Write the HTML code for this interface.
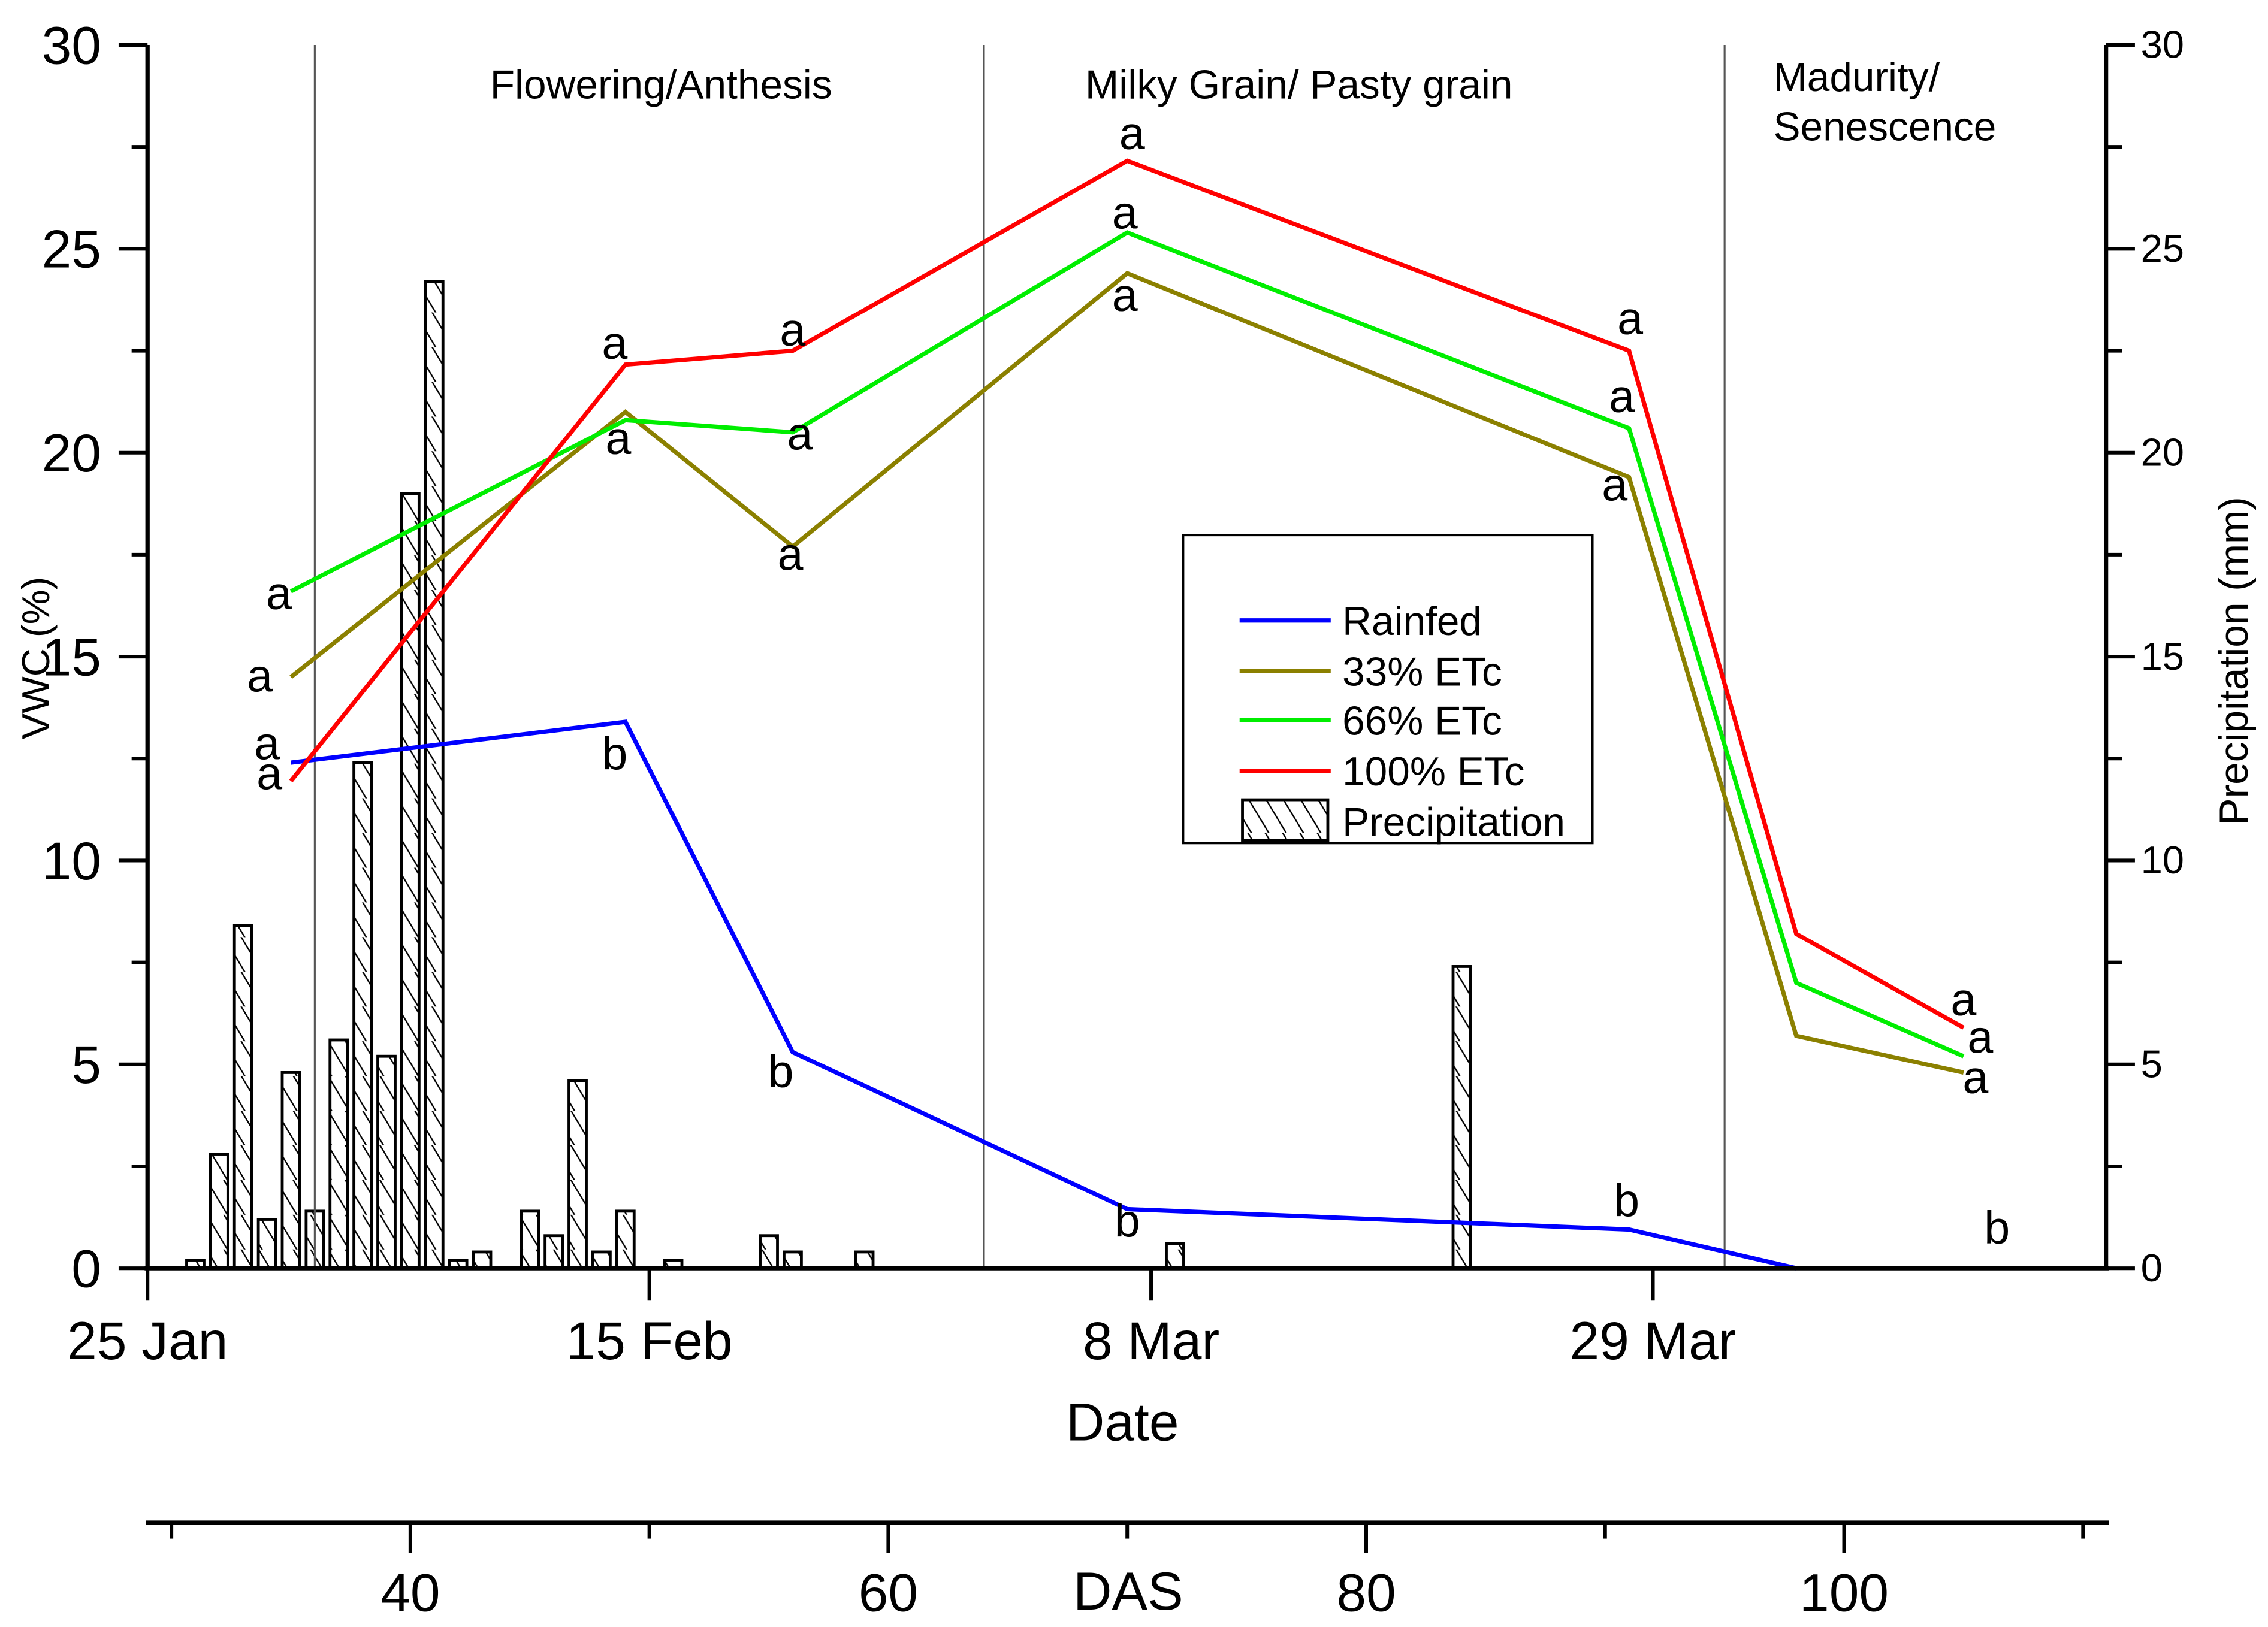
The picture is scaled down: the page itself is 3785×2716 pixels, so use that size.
<!DOCTYPE html>
<html><head><meta charset="utf-8"><style>
html,body{margin:0;padding:0;background:#fff}
svg{display:block}
text{font-family:"Liberation Sans",Arial,sans-serif;fill:#000}
</style></head><body>
<svg id="chart" width="3785" height="2716" viewBox="0 0 1568 1125" xmlns="http://www.w3.org/2000/svg">
<defs>
<pattern id="hatch" patternUnits="userSpaceOnUse" width="12" height="24">
<path d="M-6,-8 L18,32 M-18,-8 L6,32 M6,-8 L30,32" stroke="#000" stroke-width="1"/>
</pattern>
</defs>
<g id="bars"></g>
<g id="phases"></g>
<g id="lines"></g>
<g id="labels"></g>
<g id="axes"></g>
</svg>
<script>
const precipDays = [2,3,4,5,6,7,8,9,10,11,12,13,14,16,17,18,19,20,22,26,27,30,43,55];
const precipMM = [0.2,2.8,8.4,1.2,4.8,1.4,5.6,12.4,5.2,19,24.2,0.2,0.4,1.4,0.8,4.6,0.4,1.4,0.2,0.8,0.4,0.4,0.6,7.4];
const sampleDays = [6,20,27,41,62,69,76];
const rainfed = [12.4,13.4,5.3,1.45,0.95,0];
const etc33 = [14.5,21.0,17.7,24.4,19.4,5.7,4.8];
const etc66 = [16.6,20.8,20.5,25.4,20.6,7.0,5.2];
const etc100 = [11.95,22.16,22.5,27.16,22.5,8.2,5.9];
const yTicks = [0,5,10,15,20,25,30];
const dateTickDays = [0,21,42,63];
const dateTickLabels = ["25 Jan","15 Feb","8 Mar","29 Mar"];
const dasTicks = [40,60,80,100];
const phaseDays = [7,35,66];
const phaseNames = ["Flowering/Anthesis","Milky Grain/ Pasty grain","Madurity/ Senescence"];
const letters = [
 [5.1,12.1,"a"],[19.55,22.66,"a"],[27.0,22.98,"a"],[41.2,27.8,"a"],[62.05,23.26,"a"],[76.0,6.56,"a"],
 [5.5,16.52,"a"],[19.7,20.32,"a"],[27.3,20.43,"a"],[40.9,25.85,"a"],[61.7,21.35,"a"],[76.7,5.64,"a"],
 [4.7,14.5,"a"],[26.9,17.48,"a"],[40.9,23.83,"a"],[61.4,19.18,"a"],[76.5,4.65,"a"],
 [5.0,12.84,"a"],[19.55,12.59,"b"],[26.5,4.79,"b"],[41.0,1.13,"b"],[61.9,1.63,"b"],[77.4,0.96,"b"]
];
const NS="http://www.w3.org/2000/svg";
const X0=102,X1=1456,Y0=877,Y1=31,PXD=16.52;
const xd=d=>X0+d*PXD;
const yv=v=>Y0-(v/30)*(Y0-Y1);
const xdas=d=>xd(d-29);
function mk(tag,attrs,parent,txt){const e=document.createElementNS(NS,tag);for(const k in attrs)e.setAttribute(k,attrs[k]);if(txt!==undefined)e.textContent=txt;parent.appendChild(e);return e;}
const bars=document.getElementById('bars');
precipDays.forEach((d,i)=>{
 const y=yv(precipMM[i]);
 const r=mk('rect',{x:xd(d)-6,y:y,width:12,height:Y0-y,fill:'url(#hatch)',stroke:'#000','stroke-width':2},bars);
 
 
});
const ph=document.getElementById('phases');
phaseDays.forEach(d=>{const l=mk('line',{x1:xd(d),x2:xd(d),y1:Y1,y2:Y0,stroke:'#555','stroke-width':1.3},ph);
 
 });
let t=mk('text',{x:457,y:68,'font-size':28,'text-anchor':'middle'},ph,phaseNames[0]);


t=mk('text',{x:898,y:68,'font-size':28,'text-anchor':'middle'},ph,phaseNames[1]);


t=mk('text',{x:1226,y:63,'font-size':28},ph,"Madurity/");


t=mk('text',{x:1226,y:97,'font-size':28},ph,"Senescence");


const lines=document.getElementById('lines');
[[rainfed,'#0000ff','rainfed-line'],[etc33,'#8b8000','etc33-line'],[etc66,'#00ee00','etc66-line'],[etc100,'#ff0000','etc100-line']].forEach(s=>{
 const pts=s[0].map((v,i)=>xd(sampleDays[i])+','+yv(v)).join(' ');
 const p=mk('polyline',{points:pts,fill:'none',stroke:s[1],'stroke-width':3},lines);
 
 
});
const lab=document.getElementById('labels');
letters.forEach(L=>{const e=mk('text',{x:xd(L[0]),y:yv(L[1])+10,'font-size':32,'text-anchor':'middle'},lab,L[2]);
 
 });
const ax=document.getElementById('axes');
mk('line',{x1:X0,x2:X0,y1:Y1,y2:Y0,stroke:'#000','stroke-width':3},ax);
mk('line',{x1:X1,x2:X1,y1:Y1,y2:Y0,stroke:'#000','stroke-width':3},ax);
mk('line',{x1:X0-2,x2:X1+2,y1:Y0,y2:Y0,stroke:'#000','stroke-width':3},ax);
for(let v=0;v<=30;v+=2.5){
 const maj=v%5===0,len=maj?20:11;
 mk('line',{x1:X0-len,x2:X0,y1:yv(v),y2:yv(v),stroke:'#000','stroke-width':2.5},ax);
 mk('line',{x1:X1,x2:X1+len,y1:yv(v),y2:yv(v),stroke:'#000','stroke-width':2.5},ax);
}
yTicks.forEach(v=>{
 let e=mk('text',{x:70,y:yv(v)+13,'font-size':37,'text-anchor':'end'},ax,String(v));
 
 
 e=mk('text',{x:1480,y:yv(v)+9,'font-size':27},ax,String(v));
 
 
});
dateTickDays.forEach((d,i)=>{
 mk('line',{x1:xd(d),x2:xd(d),y1:Y0,y2:Y0+22,stroke:'#000','stroke-width':2.5},ax);
 const e=mk('text',{x:xd(d),y:940,'font-size':37,'text-anchor':'middle'},ax,dateTickLabels[i]);
 
 
});
let e=mk('text',{x:776,y:996,'font-size':37,'text-anchor':'middle'},ax,'Date');


e=mk('text',{x:0,y:0,'font-size':27,'text-anchor':'middle',transform:'translate(34,455) rotate(-90)'},ax,'VWC (%)');


e=mk('text',{x:0,y:0,'font-size':28,'text-anchor':'middle',transform:'translate(1554,457) rotate(-90)'},ax,'Precipitation (mm)');


const DY=1053;
mk('line',{x1:101,x2:1458,y1:DY,y2:DY,stroke:'#000','stroke-width':3},ax);
for(let d=30;d<=110;d+=10){const maj=(d%20===0);
 mk('line',{x1:xdas(d),x2:xdas(d),y1:DY,y2:DY+(maj?21:11),stroke:'#000','stroke-width':2.5},ax);}
dasTicks.forEach(d=>{const e2=mk('text',{x:xdas(d),y:1114,'font-size':37,'text-anchor':'middle'},ax,String(d));
 
 });
e=mk('text',{x:780,y:1113,'font-size':37,'text-anchor':'middle'},ax,'DAS');


const lg=mk('g',{},ax);


mk('rect',{x:818,y:370,width:283,height:213,fill:'#fff',stroke:'#000','stroke-width':1.5},lg);
[['Rainfed','#0000ff',429],['33% ETc','#8b8000',464],['66% ETc','#00ee00',498],['100% ETc','#ff0000',533]].forEach(L=>{
 mk('line',{x1:857,x2:920,y1:L[2],y2:L[2],stroke:L[1],'stroke-width':3},lg);
 const le=mk('text',{x:928,y:L[2]+10,'font-size':28},lg,L[0]);
 
 
});
mk('rect',{x:859,y:553,width:59,height:28,fill:'url(#hatch)',stroke:'#000','stroke-width':2},lg);
e=mk('text',{x:928,y:578,'font-size':28},lg,'Precipitation');


</script>
</body></html>
